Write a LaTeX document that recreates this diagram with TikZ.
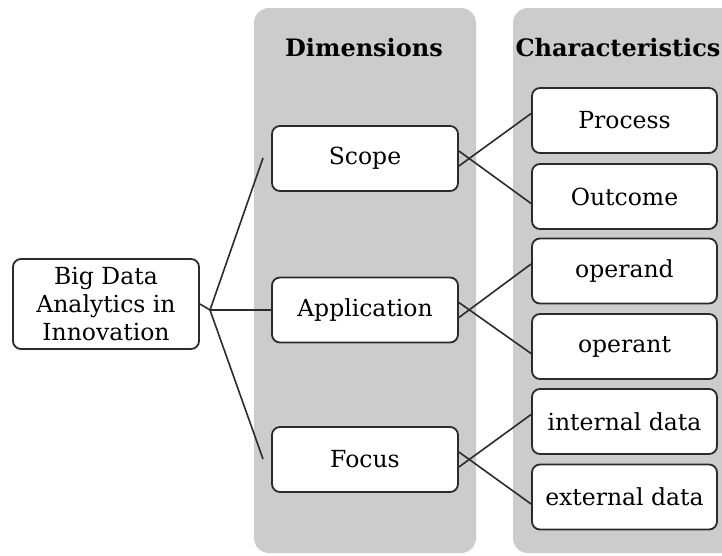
\documentclass[tikz,border=0pt]{standalone}
\usepackage{fontspec}
\setmainfont{DejaVu Serif}
\definecolor{panelgray}{HTML}{CCCCCC}
\definecolor{boxline}{HTML}{2B2B2B}
\begin{document}
\begin{tikzpicture}[x=1pt,y=-1pt,
  panel/.style={fill=panelgray, rounded corners=15pt},
  header/.style={font=\fontsize{24}{28}\selectfont\bfseries},
  itembox/.style={draw=boxline, line width=1.8pt, fill=white, rounded corners=8pt,
     minimum width=186pt, minimum height=65pt, inner sep=0pt,
     font=\fontsize{23.5}{28}\selectfont},
  charbox/.style={itembox, minimum width=185pt},
  link/.style={draw=boxline, line width=1.6pt}]
\useasboundingbox (0,0) rectangle (722,555);
\begin{scope}
\clip (0,0) rectangle (722,555);
\path[panel] (254,8) rectangle (476,553);
\path[panel] (513,8) rectangle (745,553);
\end{scope}
\node[header] (hdim) at (364,48) {Dimensions};
\node[header] (hchar) at (618,48) {Characteristics};
\node[itembox, minimum height=90pt, align=center] (big) at (106,304) {Big Data\\Analytics in\\Innovation};
\node[itembox] (scope) at (365,158.5) {Scope};
\node[itembox] (app) at (365,310) {Application};
\node[itembox] (focus) at (365,459.5) {Focus};
\node[charbox] (process) at (624.5,120.5) {Process};
\node[charbox] (outcome) at (624.5,196.5) {Outcome};
\node[charbox] (operand) at (624.5,271) {operand};
\node[charbox] (operant) at (624.5,346.5) {operant};
\node[charbox] (internal) at (624.5,421.5) {internal data};
\node[charbox] (external) at (624.5,497) {external data};
\coordinate (j) at (210,310);
\coordinate (st) at (263,158);
\coordinate (ft) at (263,459);
\draw[link] (big.east) -- (j) -- (app.west);
\draw[link] (st) -- (j) -- (ft);
\foreach \s/\a/\b in {scope/process/outcome, app/operand/operant, focus/internal/external}{
  \draw[link] ([yshift=7.5pt]\s.east) -- ([yshift=-7pt]\b.west);
  \draw[link] ([yshift=-7.5pt]\s.east) -- ([yshift=7pt]\a.west);
}
\end{tikzpicture}
\end{document}
